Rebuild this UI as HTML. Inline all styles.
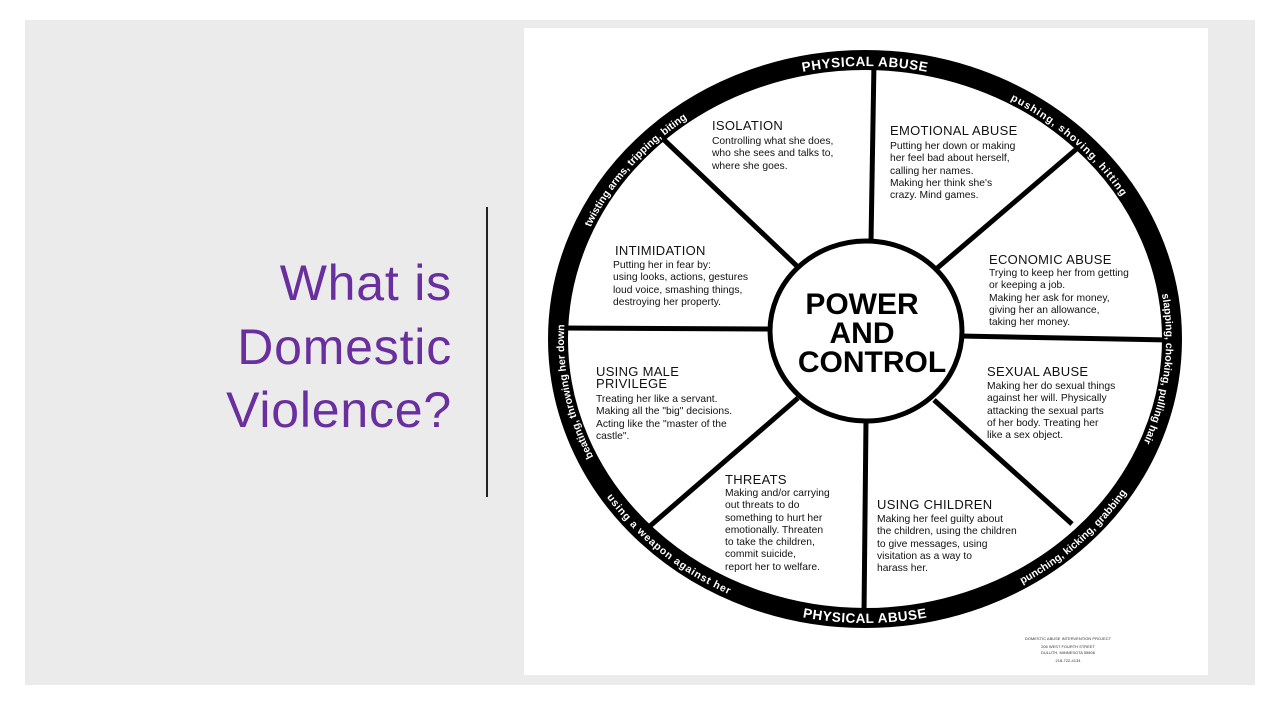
<!DOCTYPE html>
<html><head><meta charset="utf-8"><style>
html,body{margin:0;padding:0;background:#fff;width:1280px;height:710px;overflow:hidden}
#slide{position:absolute;left:25px;top:20px;width:1230px;height:665px;background:#ebebeb}
#panel{position:absolute;left:524px;top:28px;width:684px;height:647px;background:#fff}
.t{position:absolute;font-family:"Liberation Sans",sans-serif;color:#111}
.h{font-size:13px;letter-spacing:0.3px;line-height:13px}
.b{font-size:10.3px;line-height:12.3px;white-space:nowrap}
#title{position:absolute;right:828px;top:252px;text-align:right;font-family:"Liberation Sans",sans-serif;font-size:50px;line-height:63.5px;color:#6a2f9f;letter-spacing:0.8px}
</style></head><body>
<div id="slide"></div>
<div id="panel"></div>
<div style="position:absolute;left:486px;top:207px;width:2px;height:290px;background:#222"></div>
<div id="title">What is<br>Domestic<br>Violence?</div>
<svg width="1280" height="710" style="position:absolute;left:0;top:0">
<defs>
<path id="cw" d="M865,612 A301,273 0 1 1 865,66 A301,273 0 1 1 865,612"/>
<path id="ccw" d="M865,55 A311,284 0 1 0 865,623 A311,284 0 1 0 865,55"/>
</defs>
<ellipse cx="865" cy="339" rx="307" ry="279" fill="#fff" stroke="#000" stroke-width="20"/>
<g stroke="#000" stroke-width="5">
<line x1="874" y1="62" x2="871" y2="242"/>
<line x1="866" y1="420" x2="864" y2="615"/>
<line x1="560" y1="328" x2="772" y2="329"/>
<line x1="960" y1="336" x2="1170" y2="340"/>
<line x1="660" y1="136" x2="799" y2="268"/>
<line x1="1080" y1="146" x2="935" y2="270"/>
<line x1="650" y1="526" x2="798" y2="398"/>
<line x1="1072" y1="524" x2="934" y2="400"/>
</g>
<ellipse cx="866" cy="331" rx="96" ry="90" fill="#fff" stroke="#000" stroke-width="5"/>
<g font-family="Liberation Sans,sans-serif" font-weight="bold" font-size="30" text-anchor="middle" fill="#000">
<text x="862" y="314">POWER</text>
<text x="862" y="343">AND</text>
<text x="872" y="372">CONTROL</text>
</g>
<g font-family="Liberation Sans,sans-serif" font-weight="bold" fill="#fff" text-anchor="middle">
<text font-size="10.5"><textPath href="#cw" startOffset="22%">beating, throwing her down</textPath></text>
<text font-size="10.5"><textPath href="#cw" startOffset="35.5%">twisting arms, tripping, biting</textPath></text>
<text font-size="13.5" letter-spacing="0.5"><textPath href="#cw" startOffset="50%">PHYSICAL ABUSE</textPath></text>
<text font-size="10.5" letter-spacing="1"><textPath href="#cw" startOffset="62.5%">pushing,  shoving,  hitting</textPath></text>
<text font-size="10.5"><textPath href="#cw" startOffset="76.7%">slapping, choking, pulling hair</textPath></text>
<text font-size="10.5" letter-spacing="0.8"><textPath href="#ccw" startOffset="38.3%">using a weapon against  her</textPath></text>
<text font-size="13.5" letter-spacing="0.5"><textPath href="#ccw" startOffset="50%">PHYSICAL ABUSE</textPath></text>
<text font-size="10.5"><textPath href="#ccw" startOffset="62.5%">punching, kicking, grabbing</textPath></text>
</g>
<g font-family="Liberation Sans,sans-serif" font-size="4" fill="#333" text-anchor="middle">
<text x="1068" y="640">DOMESTIC ABUSE INTERVENTION PROJECT</text>
<text x="1068" y="648">206 WEST FOURTH STREET</text>
<text x="1068" y="654">DULUTH, MINNESOTA 55806</text>
<text x="1068" y="662">218-722-4134</text>
</g>
</svg>
<div class="t h" style="left:712px;top:119px">ISOLATION</div>
<div class="t b" style="left:712px;top:136px">Controlling what she does,<br>who she sees and talks to,<br>where she goes.</div>
<div class="t h" style="left:890px;top:124px">EMOTIONAL ABUSE</div>
<div class="t b" style="left:890px;top:141px">Putting her down or making<br>her feel bad about herself,<br>calling her names.<br>Making her think she's<br>crazy. Mind games.</div>
<div class="t h" style="left:615px;top:244px">INTIMIDATION</div>
<div class="t b" style="left:613px;top:260px">Putting her in fear by:<br>using looks, actions, gestures<br>loud voice, smashing things,<br>destroying her property.</div>
<div class="t h" style="left:989px;top:253px">ECONOMIC ABUSE</div>
<div class="t b" style="left:989px;top:268px">Trying to keep her from getting<br>or keeping a job.<br>Making her ask for money,<br>giving her an allowance,<br>taking her money.</div>
<div class="t h" style="left:596px;top:366px;line-height:12px">USING MALE<br>PRIVILEGE</div>
<div class="t b" style="left:596px;top:394px">Treating her like a servant.<br>Making all the "big" decisions.<br>Acting like the "master of the<br>castle".</div>
<div class="t h" style="left:987px;top:365px">SEXUAL ABUSE</div>
<div class="t b" style="left:987px;top:381px">Making her do sexual things<br>against her will. Physically<br>attacking the sexual parts<br>of her body. Treating her<br>like a sex object.</div>
<div class="t h" style="left:725px;top:473px">THREATS</div>
<div class="t b" style="left:725px;top:488px">Making and/or carrying<br>out threats to do<br>something to hurt her<br>emotionally.  Threaten<br>to take the children,<br>commit suicide,<br>report her to welfare.</div>
<div class="t h" style="left:877px;top:498px">USING CHILDREN</div>
<div class="t b" style="left:877px;top:514px">Making her feel guilty about<br>the children, using the children<br>to give messages, using<br>visitation as a way to<br>harass her.</div>
</body></html>
